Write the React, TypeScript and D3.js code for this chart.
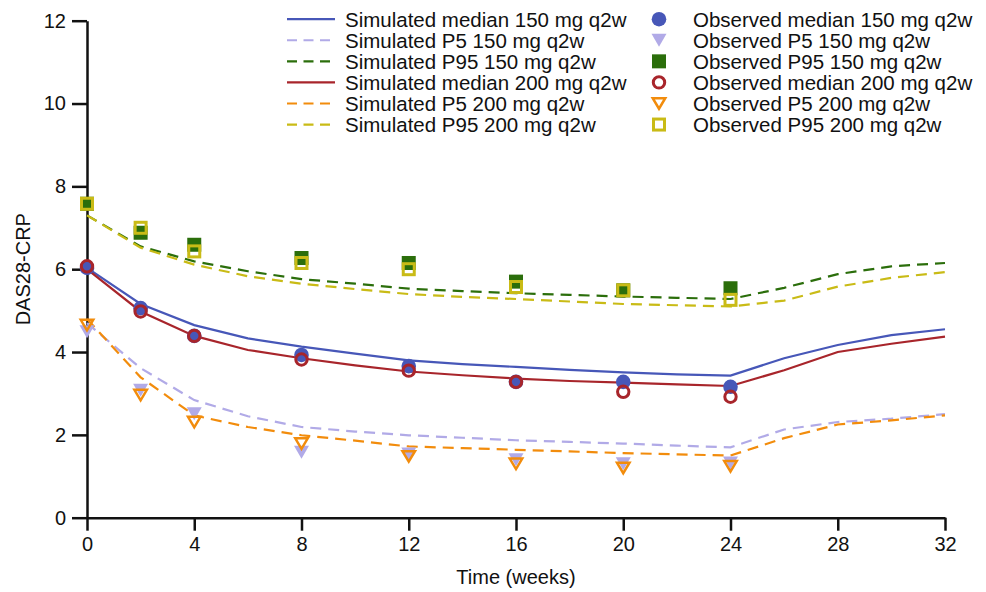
import React, { useEffect, useRef } from 'react';
import * as d3 from 'd3';

// simulated curves, every 2 weeks
const simWeeks = [0, 2, 4, 6, 8, 10, 12, 14, 16, 18, 20, 22, 24, 26, 28, 30, 32];
const simMed150 = [6.03, 5.16, 4.65, 4.33, 4.13, 3.96, 3.8, 3.71, 3.64, 3.57, 3.51, 3.46, 3.43, 3.85, 4.17, 4.41, 4.55];
const simP5_150 = [4.7, 3.61, 2.84, 2.45, 2.19, 2.08, 1.99, 1.93, 1.87, 1.83, 1.79, 1.74, 1.7, 2.13, 2.31, 2.39, 2.5];
const simP95_150 = [7.3, 6.55, 6.19, 5.95, 5.76, 5.65, 5.53, 5.47, 5.42, 5.38, 5.34, 5.31, 5.28, 5.55, 5.88, 6.07, 6.15];
const simMed200 = [6.0, 4.98, 4.39, 4.05, 3.85, 3.68, 3.53, 3.44, 3.36, 3.3, 3.26, 3.22, 3.18, 3.56, 4.0, 4.2, 4.37];
const simP5_200 = [4.8, 3.39, 2.47, 2.19, 1.99, 1.86, 1.72, 1.68, 1.64, 1.6, 1.56, 1.53, 1.5, 1.92, 2.25, 2.35, 2.47];
const simP95_200 = [7.3, 6.52, 6.11, 5.83, 5.65, 5.52, 5.4, 5.33, 5.28, 5.22, 5.16, 5.13, 5.1, 5.24, 5.58, 5.79, 5.93];

// observed
const obsWeeks = [0, 2, 4, 8, 12, 16, 20, 24];
const obsMed150 = [6.03, 5.06, 4.39, 3.93, 3.66, 3.28, 3.28, 3.16];
const obsP5_150 = [4.49, 3.08, 2.51, 1.58, 1.54, 1.4, 1.3, 1.32];
const obsP95_150 = [7.58, 6.88, 6.59, 6.27, 6.15, 5.7, 5.49, 5.54];
const obsMed200 = [6.07, 4.98, 4.39, 3.82, 3.55, 3.28, 3.04, 2.92];
const obsP5_200 = [4.65, 2.96, 2.31, 1.79, 1.48, 1.3, 1.2, 1.24];
const obsP95_200 = [7.58, 7.0, 6.43, 6.15, 6.0, 5.57, 5.49, 5.26];

const xTicks = [0, 4, 8, 12, 16, 20, 24, 28, 32];
const yTicks = [0, 2, 4, 6, 8, 10, 12];

const simSeries = [
  { name: 'Simulated median 150 mg q2w', values: simMed150, color: '#4757b8', dash: null },
  { name: 'Simulated P5 150 mg q2w', values: simP5_150, color: '#b1aae7', dash: '11,7' },
  { name: 'Simulated P95 150 mg q2w', values: simP95_150, color: '#2b6e0b', dash: '11,7' },
  { name: 'Simulated median 200 mg q2w', values: simMed200, color: '#a8252b', dash: null },
  { name: 'Simulated P5 200 mg q2w', values: simP5_200, color: '#f28c0c', dash: '11,7' },
  { name: 'Simulated P95 200 mg q2w', values: simP95_200, color: '#c9bb16', dash: '11,7' },
];

const obsSeries = [
  { name: 'Observed median 150 mg q2w', values: obsMed150, color: '#4757b8', shape: 'circle', filled: true },
  { name: 'Observed P5 150 mg q2w', values: obsP5_150, color: '#b1aae7', shape: 'tri', filled: true },
  { name: 'Observed P95 150 mg q2w', values: obsP95_150, color: '#2b6e0b', shape: 'square', filled: true },
  { name: 'Observed median 200 mg q2w', values: obsMed200, color: '#a8252b', shape: 'circle', filled: false },
  { name: 'Observed P5 200 mg q2w', values: obsP5_200, color: '#f28c0c', shape: 'tri', filled: false },
  { name: 'Observed P95 200 mg q2w', values: obsP95_200, color: '#c9bb16', shape: 'square', filled: false },
];

const FONT = 'Liberation Sans, Arial, Helvetica, sans-serif';

function drawMarker(g, shape, filled, color, cx, cy) {
  if (shape === 'circle') {
    g.append('circle')
      .attr('cx', cx).attr('cy', cy)
      .attr('r', filled ? 7.3 : 5.7)
      .attr('fill', filled ? color : 'none')
      .attr('stroke', filled ? 'none' : color)
      .attr('stroke-width', 3);
  } else if (shape === 'square') {
    const s = filled ? 14 : 11;
    g.append('rect')
      .attr('x', cx - s / 2).attr('y', cy - s / 2)
      .attr('width', s).attr('height', s)
      .attr('fill', filled ? color : 'none')
      .attr('stroke', filled ? 'none' : color)
      .attr('stroke-width', 3);
  } else {
    const w = filled ? 15 : 12.5;
    const h = filled ? 13 : 10.5;
    g.append('path')
      .attr('d', `M${cx - w / 2},${cy - h / 2}L${cx + w / 2},${cy - h / 2}L${cx},${cy + h / 2}Z`)
      .attr('fill', filled ? color : 'none')
      .attr('stroke', filled ? 'none' : color)
      .attr('stroke-width', 2.5)
      .attr('stroke-linejoin', 'miter');
  }
}

const App = () => {
  const svgRef = useRef(null);

  useEffect(() => {
    const svg = d3.select(svgRef.current);
    svg.selectAll('*').remove();

    const x = d3.scaleLinear().domain([0, 32]).range([87, 945]);
    const y = d3.scaleLinear().domain([0, 12]).range([517.7, 20.7]);

    // axes
    const xAxis = svg.append('g')
      .attr('transform', `translate(0,${y(0)})`)
      .call(d3.axisBottom(x).tickValues(xTicks).tickSize(13).tickSizeOuter(0).tickPadding(6));
    const yAxis = svg.append('g')
      .attr('transform', `translate(${x(0)},0)`)
      .call(d3.axisLeft(y).tickValues(yTicks).tickSize(15).tickSizeOuter(0).tickPadding(6));

    [xAxis, yAxis].forEach(a => {
      a.selectAll('path, line').attr('stroke', '#111').attr('stroke-width', 2.5);
      a.selectAll('text').attr('font-family', FONT).attr('font-size', 20).attr('fill', '#111');
    });

    svg.append('text')
      .attr('x', x(16)).attr('y', 584)
      .attr('text-anchor', 'middle')
      .attr('font-family', FONT).attr('font-size', 20).attr('fill', '#111')
      .text('Time (weeks)');

    svg.append('text')
      .attr('transform', `translate(30,${(y(0) + y(12)) / 2}) rotate(-90)`)
      .attr('text-anchor', 'middle')
      .attr('font-family', FONT).attr('font-size', 20).attr('fill', '#111')
      .text('DAS28-CRP');

    // simulated lines
    const line = d3.line<number>()
      .x((_, i) => x(simWeeks[i]))
      .y(d => y(d));

    simSeries.forEach(s => {
      svg.append('path')
        .datum(s.values)
        .attr('d', line)
        .attr('fill', 'none')
        .attr('stroke', s.color)
        .attr('stroke-width', 2.2)
        .attr('stroke-dasharray', s.dash);
    });

    // observed markers
    obsSeries.forEach(s => {
      const g = svg.append('g');
      s.values.forEach((v, i) => drawMarker(g, s.shape, s.filled, s.color, x(obsWeeks[i]), y(v)));
    });

    // legend
    const leg = svg.append('g');
    const rowY = i => 19.2 + i * 21.07;
    simSeries.forEach((s, i) => {
      leg.append('line')
        .attr('x1', 287).attr('x2', 335)
        .attr('y1', rowY(i)).attr('y2', rowY(i))
        .attr('stroke', s.color).attr('stroke-width', 2.2)
        .attr('stroke-dasharray', s.dash ? '10,6.5' : null);
      leg.append('text')
        .attr('x', 345).attr('y', rowY(i))
        .attr('dy', '0.36em')
        .attr('font-family', FONT).attr('font-size', 20.5).attr('fill', '#111')
        .text(s.name);
    });
    obsSeries.forEach((s, i) => {
      drawMarker(leg, s.shape, s.filled, s.color, 659, rowY(i));
      leg.append('text')
        .attr('x', 693).attr('y', rowY(i))
        .attr('dy', '0.36em')
        .attr('font-family', FONT).attr('font-size', 20.5).attr('fill', '#111')
        .text(s.name);
    });
  }, []);

  return (
    <svg ref={svgRef} width="986" height="592"
      style={{ position: 'absolute', left: 0, top: 0, background: '#fff' }} />
  );
};

export default App;
